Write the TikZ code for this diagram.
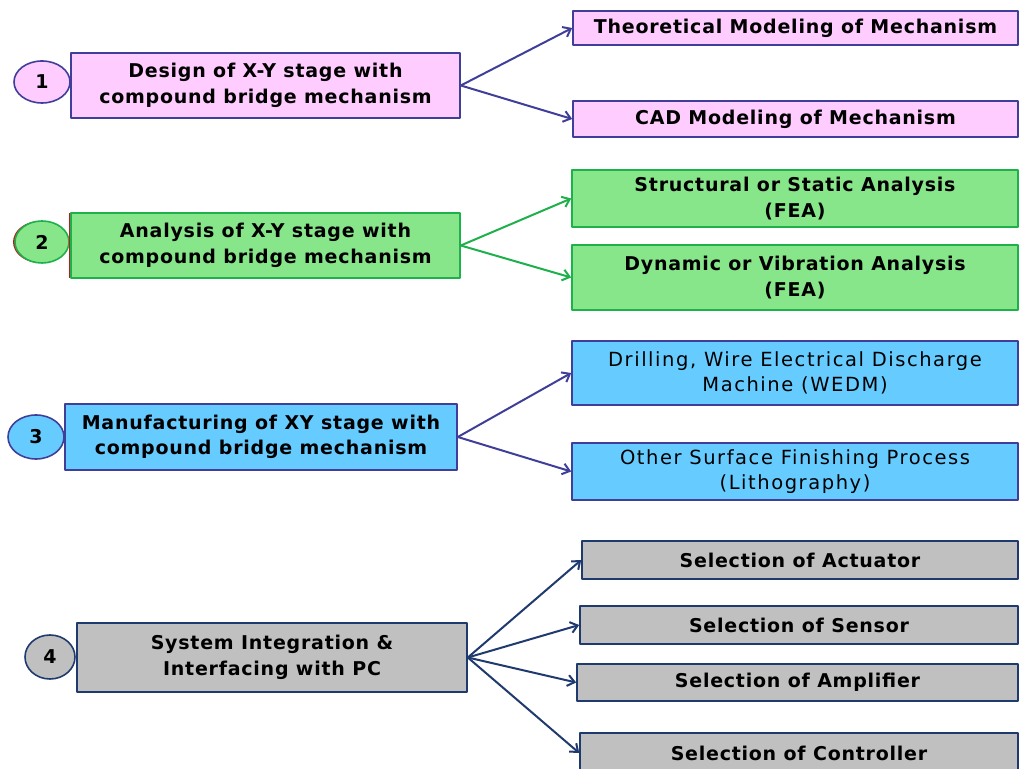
\documentclass[tikz,border=0pt]{standalone}
\usepackage{fontspec}
\setmainfont[LetterSpace=4]{DejaVu Sans}
\newfontfamily\widefont[LetterSpace=8]{DejaVu Sans}
\usetikzlibrary{arrows.meta,shapes.geometric,shadows}

\definecolor{pinkfill}{HTML}{FFCCFF}
\definecolor{purpline}{HTML}{3F3F99}
\definecolor{greenfill}{HTML}{88E68A}
\definecolor{greenline}{HTML}{1EB04A}
\definecolor{redshade}{HTML}{C8141E}
\definecolor{bluefill}{HTML}{66CCFF}
\definecolor{greyfill}{HTML}{C0C0C0}
\definecolor{navyline}{HTML}{1F3A6E}

\begin{document}
\begin{tikzpicture}[>={Straight Barb[length=7bp,width=11bp]},line join=bevel,
  every node/.style={inner sep=0pt,font=\fontsize{19bp}{25.5bp}\selectfont\bfseries},
  stepbox/.style={draw,rectangle,align=center,line width=1.6bp},
  numring/.style={draw,ellipse,line width=1.6bp},
  redshadow/.style={general shadow={fill=redshade,shadow xshift=-2bp}},
  plain/.style={font=\fontsize{19.5bp}{25.5bp}\widefont},
  link/.style={->,line width=2bp}]
  \useasboundingbox (0bp,0bp) rectangle (1020bp,769bp);
%%
  % Node: 1
  \node[numring,fill=pinkfill,draw=purpline,minimum width=56bp,minimum height=42bp] (one) at (42bp,687bp) {1};
  % Node: Design
  \node[stepbox,fill=pinkfill,draw=purpline,minimum width=389bp,minimum height=65bp] (design) at (265.5bp,683.5bp) {Design of X-Y stage with\\compound bridge mechanism};
  % Node: Theoretical
  \node[stepbox,fill=pinkfill,draw=purpline,minimum width=445bp,minimum height=34bp] (theory) at (795.5bp,741bp) {Theoretical Modeling of Mechanism};
  % Node: CAD
  \node[stepbox,fill=pinkfill,draw=purpline,minimum width=445bp,minimum height=36bp] (cad) at (795.5bp,650bp) {CAD Modeling of Mechanism};
  % Edge: Design -> Theoretical
  \draw [link,purpline] (design.east) -- (theory.west);
  % Edge: Design -> CAD
  \draw [link,purpline] (design.east) -- (cad.west);
%%
  % Node: 2
  \node[numring,redshadow,fill=greenfill,draw=greenline,minimum width=54bp,minimum height=42bp] (two) at (42bp,527bp) {2};
  % Node: Analysis
  \node[stepbox,redshadow,fill=greenfill,draw=greenline,minimum width=389bp,minimum height=65bp] (analysis) at (265.5bp,523.5bp) {Analysis of X-Y stage with\\compound bridge mechanism};
  % Node: Static
  \node[stepbox,fill=greenfill,draw=greenline,minimum width=446bp,minimum height=57bp] (static) at (795bp,570.5bp) {Structural or Static Analysis\\(FEA)};
  % Node: Dynamic
  \node[stepbox,fill=greenfill,draw=greenline,minimum width=446bp,minimum height=65bp] (dynamic) at (795bp,491.5bp) {Dynamic or Vibration Analysis\\(FEA)};
  % Edge: Analysis -> Static
  \draw [link,greenline] (analysis.east) -- (static.west);
  % Edge: Analysis -> Dynamic
  \draw [link,greenline] (analysis.east) -- (dynamic.west);
%%
  % Node: 3
  \node[numring,fill=bluefill,draw=purpline,minimum width=56bp,minimum height=44bp] (three) at (36bp,332bp) {3};
  % Node: Manufacturing
  \node[stepbox,fill=bluefill,draw=purpline,minimum width=392bp,minimum height=66bp] (manuf) at (261bp,332bp) {Manufacturing of XY stage with\\compound bridge mechanism};
  % Node: WEDM
  \node[stepbox,plain,fill=bluefill,draw=purpline,minimum width=446bp,minimum height=64bp] (wedm) at (795bp,396bp) {Drilling, Wire Electrical Discharge\\Machine (WEDM)};
  % Node: Finishing
  \node[stepbox,plain,fill=bluefill,draw=purpline,minimum width=446bp,minimum height=57bp] (finish) at (795bp,297.5bp) {Other Surface Finishing Process\\(Lithography)};
  % Edge: Manufacturing -> WEDM
  \draw [link,purpline] (manuf.east) -- (wedm.west);
  % Edge: Manufacturing -> Finishing
  \draw [link,purpline] (manuf.east) -- (finish.west);
%%
  % Node: 4
  \node[numring,fill=greyfill,draw=navyline,minimum width=50bp,minimum height=44bp] (four) at (50bp,112bp) {4};
  % Node: Integration
  \node[stepbox,fill=greyfill,draw=navyline,minimum width=390bp,minimum height=69bp] (integ) at (272bp,111.5bp) {System Integration \&\\Interfacing with PC};
  % Node: Actuator
  \node[stepbox,fill=greyfill,draw=navyline,minimum width=436bp,minimum height=38bp] (actuator) at (800bp,209bp) {Selection of Actuator};
  % Node: Sensor
  \node[stepbox,fill=greyfill,draw=navyline,minimum width=438bp,minimum height=38bp] (sensor) at (799bp,144bp) {Selection of Sensor};
  % Node: Amplifier
  \node[stepbox,fill=greyfill,draw=navyline,minimum width=441bp,minimum height=37bp] (amplifier) at (797.5bp,86.5bp) {Selection of Amplifier};
  % Node: Controller
  \node[stepbox,fill=greyfill,draw=navyline,minimum width=438bp,minimum height=40bp] (controller) at (799bp,16bp) {Selection of Controller};
  % Edge: Integration -> Actuator
  \draw [link,navyline] (integ.east) -- (actuator.west);
  % Edge: Integration -> Sensor
  \draw [link,navyline] (integ.east) -- (sensor.west);
  % Edge: Integration -> Amplifier
  \draw [link,navyline] (integ.east) -- (amplifier.west);
  % Edge: Integration -> Controller
  \draw [link,navyline] (integ.east) -- (controller.west);
%
\end{tikzpicture}
\end{document}
